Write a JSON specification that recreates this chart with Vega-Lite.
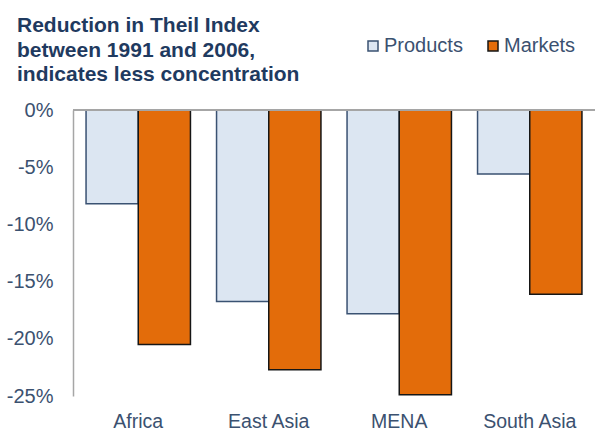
{
  "$schema": "https://vega.github.io/schema/vega-lite/v6.json",
  "autosize": {"type": "none"},
  "width": 522,
  "height": 286,
  "padding": {"left": 73, "top": 110, "right": 1, "bottom": 36},
  "background": "white",
  "title": {
    "text": ["Reduction in Theil Index", "between 1991 and 2006,", "indicates less concentration"],
    "anchor": "start",
    "frame": "group",
    "orient": "top",
    "dx": -56,
    "dy": 77,
    "offset": 28,
    "font": "Liberation Sans",
    "fontSize": 21,
    "fontWeight": "bold",
    "lineHeight": 24.5,
    "color": "#1f3a60"
  },
  "config": {
    "view": {"stroke": null},
    "font": "Liberation Sans"
  },
  "data": {
    "values": [
      {"region": "Africa", "series": "Products", "value": -8.2},
      {"region": "Africa", "series": "Markets", "value": -20.5},
      {"region": "East Asia", "series": "Products", "value": -16.75},
      {"region": "East Asia", "series": "Markets", "value": -22.7},
      {"region": "MENA", "series": "Products", "value": -17.8},
      {"region": "MENA", "series": "Markets", "value": -24.9},
      {"region": "South Asia", "series": "Products", "value": -5.6},
      {"region": "South Asia", "series": "Markets", "value": -16.1}
    ]
  },
  "layer": [
    {
      "mark": {"type": "bar", "strokeWidth": 1.5},
      "encoding": {
        "x": {
          "field": "region",
          "type": "nominal",
          "sort": ["Africa", "East Asia", "MENA", "South Asia"],
          "scale": {"paddingInner": 0.2, "paddingOuter": 0.1},
          "axis": {
            "title": null,
            "orient": "bottom",
            "domain": false,
            "ticks": false,
            "labelAngle": 0,
            "labelFontSize": 19.5,
            "labelColor": "#3b5170",
            "labelPadding": 16
          }
        },
        "xOffset": {
          "field": "series",
          "type": "nominal",
          "sort": ["Products", "Markets"],
          "scale": {"paddingInner": 0, "paddingOuter": 0}
        },
        "y": {
          "field": "value",
          "type": "quantitative",
          "scale": {"domain": [-25, 0], "nice": false},
          "axis": {
            "title": null,
            "values": [-25, -20, -15, -10, -5, 0],
            "labelExpr": "datum.value + '%'",
            "grid": false,
            "ticks": false,
            "domain": true,
            "domainColor": "#a6a6a6",
            "domainWidth": 1.5,
            "labelFontSize": 20,
            "labelColor": "#3b5170",
            "labelPadding": 20
          }
        },
        "fill": {
          "field": "series",
          "type": "nominal",
          "sort": ["Products", "Markets"],
          "scale": {"domain": ["Products", "Markets"], "range": ["#dce6f2", "#e36c0a"]},
          "legend": {
            "title": null,
            "orient": "none",
            "direction": "horizontal",
            "legendX": 290,
            "legendY": -74,
            "padding": 0,
            "symbolType": "square",
            "symbolSize": 100,
            "symbolStrokeWidth": 1.5,
            "labelFontSize": 20,
            "labelColor": "#3b5170",
            "labelOffset": 1,
            "columnPadding": 20
          }
        },
        "stroke": {
          "field": "series",
          "type": "nominal",
          "sort": ["Products", "Markets"],
          "scale": {"domain": ["Products", "Markets"], "range": ["#3a5272", "#161616"]},
          "legend": {
            "title": null,
            "orient": "none",
            "direction": "horizontal",
            "legendX": 290,
            "legendY": -74,
            "padding": 0,
            "symbolType": "square",
            "symbolSize": 100,
            "symbolStrokeWidth": 1.5,
            "labelFontSize": 20,
            "labelColor": "#3b5170",
            "labelOffset": 1,
            "columnPadding": 20
          }
        }
      }
    },
    {
      "mark": {"type": "rule", "color": "#a6a6a6", "strokeWidth": 1.5},
      "encoding": {"y": {"datum": 0}}
    }
  ]
}
